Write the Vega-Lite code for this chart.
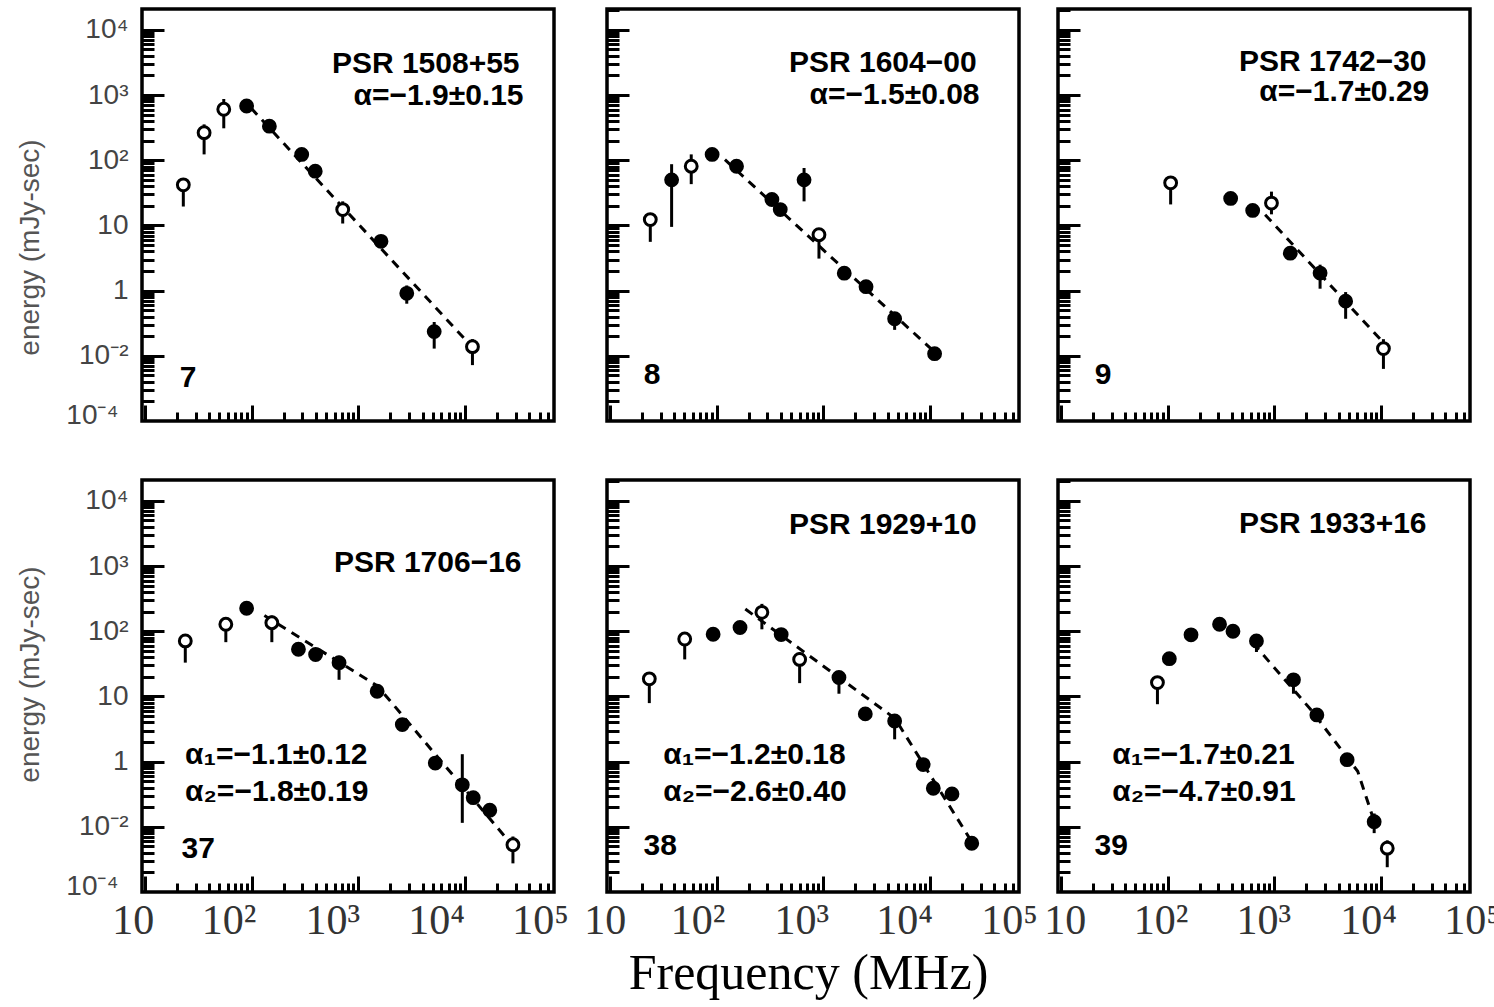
{
"$schema": "https://vega.github.io/schema/vega-lite/v6.json",
"background": "white",
"padding": {"left": 14, "top": 6, "right": 0, "bottom": 0},
"config": {
  "axis": {"grid": false, "domain": false, "tickColor": "black", "tickWidth": 3, "labelOverlap": false, "labelFlush": false, "labelBound": false},
  "view": {"stroke": "black", "strokeWidth": 3.5},
  "point": {"opacity": 1},
  "text": {"font": "Liberation Sans", "fontWeight": "bold", "fontSize": 30, "color": "black", "baseline": "middle"}
},
"data": {"values": [
{"p":7,"t":"pt","f":23,"E":42,"lo":19.5,"hi":52,"k":"open"},
{"p":7,"t":"pt","f":36,"E":265,"lo":123,"hi":355,"k":"open"},
{"p":7,"t":"pt","f":55,"E":605,"lo":309,"hi":870,"k":"open"},
{"p":7,"t":"pt","f":90,"E":680,"k":"filled"},
{"p":7,"t":"pt","f":147,"E":333,"k":"filled"},
{"p":7,"t":"pt","f":295,"E":123,"k":"filled"},
{"p":7,"t":"pt","f":395,"E":68,"k":"filled"},
{"p":7,"t":"pt","f":714,"E":17.5,"lo":10.7,"hi":23.4,"k":"open"},
{"p":7,"t":"pt","f":1630,"E":5.7,"k":"filled"},
{"p":7,"t":"pt","f":2840,"E":0.91,"lo":0.63,"hi":1.2,"k":"filled"},
{"p":7,"t":"pt","f":5130,"E":0.235,"lo":0.129,"hi":0.33,"k":"filled"},
{"p":7,"t":"pt","f":11700,"E":0.138,"lo":0.072,"hi":0.18,"k":"open"},
{"p":7,"t":"fit","f":99,"E":631},
{"p":7,"t":"fit","f":10470,"E":0.164},
{"p":7,"t":"name","f":32300,"E":2950,"s":"PSR 1508+55"},
{"p":7,"t":"ar","f":35200,"E":960,"s":"α=−1.9±0.15"},
{"p":7,"t":"num","f":25.5,"E":0.046,"s":"7"},

{"p":8,"t":"pt","f":24,"E":12.3,"lo":5.6,"hi":14.8,"k":"open"},
{"p":8,"t":"pt","f":38,"E":50,"lo":9.5,"hi":87,"k":"filled"},
{"p":8,"t":"pt","f":58,"E":81,"lo":43,"hi":123,"k":"open"},
{"p":8,"t":"pt","f":91,"E":123,"k":"filled"},
{"p":8,"t":"pt","f":154,"E":81,"k":"filled"},
{"p":8,"t":"pt","f":330,"E":25,"k":"filled"},
{"p":8,"t":"pt","f":395,"E":17.5,"k":"filled"},
{"p":8,"t":"pt","f":660,"E":50,"lo":23.4,"hi":76,"k":"filled"},
{"p":8,"t":"pt","f":910,"E":7.2,"lo":3.1,"hi":8.9,"k":"open"},
{"p":8,"t":"pt","f":1570,"E":1.85,"k":"filled"},
{"p":8,"t":"pt","f":2510,"E":1.15,"k":"filled"},
{"p":8,"t":"pt","f":4650,"E":0.37,"lo":0.25,"hi":0.42,"k":"filled"},
{"p":8,"t":"pt","f":11000,"E":0.108,"k":"filled"},
{"p":8,"t":"fit","f":120,"E":102},
{"p":8,"t":"fit","f":10960,"E":0.115},
{"p":8,"t":"name","f":27200,"E":3060,"s":"PSR 1604−00"},
{"p":8,"t":"ar","f":29000,"E":995,"s":"α=−1.5±0.08"},
{"p":8,"t":"num","f":25,"E":0.05,"s":"8"},

{"p":9,"t":"pt","f":107,"E":45,"lo":21,"hi":52,"k":"open"},
{"p":9,"t":"pt","f":390,"E":26,"k":"filled"},
{"p":9,"t":"pt","f":627,"E":17,"k":"filled"},
{"p":9,"t":"pt","f":940,"E":22,"lo":14.8,"hi":33,"k":"open"},
{"p":9,"t":"pt","f":1410,"E":3.75,"k":"filled"},
{"p":9,"t":"pt","f":2680,"E":1.86,"lo":1.07,"hi":2.5,"k":"filled"},
{"p":9,"t":"pt","f":4650,"E":0.69,"lo":0.37,"hi":0.95,"k":"filled"},
{"p":9,"t":"pt","f":10500,"E":0.129,"lo":0.063,"hi":0.18,"k":"open"},
{"p":9,"t":"fit","f":820,"E":14.6},
{"p":9,"t":"fit","f":10000,"E":0.174},
{"p":9,"t":"name","f":26600,"E":3200,"s":"PSR 1742−30"},
{"p":9,"t":"ar","f":28200,"E":1100,"s":"α=−1.7±0.29"},
{"p":9,"t":"num","f":25,"E":0.05,"s":"9"},

{"p":37,"t":"pt","f":24,"E":71,"lo":33,"hi":85,"k":"open"},
{"p":37,"t":"pt","f":57.5,"E":128,"lo":68,"hi":151,"k":"open"},
{"p":37,"t":"pt","f":90,"E":225,"k":"filled"},
{"p":37,"t":"pt","f":155,"E":135,"lo":68,"hi":174,"k":"open"},
{"p":37,"t":"pt","f":275,"E":53,"k":"filled"},
{"p":37,"t":"pt","f":398,"E":44,"k":"filled"},
{"p":37,"t":"pt","f":660,"E":33,"lo":18,"hi":42,"k":"filled"},
{"p":37,"t":"pt","f":1500,"E":12,"k":"filled"},
{"p":37,"t":"pt","f":2580,"E":3.7,"k":"filled"},
{"p":37,"t":"pt","f":5250,"E":0.95,"k":"filled"},
{"p":37,"t":"pt","f":9400,"E":0.44,"lo":0.115,"hi":1.3,"k":"filled"},
{"p":37,"t":"pt","f":11900,"E":0.28,"k":"filled"},
{"p":37,"t":"pt","f":17000,"E":0.18,"k":"filled"},
{"p":37,"t":"pt","f":28000,"E":0.053,"lo":0.0275,"hi":0.071,"k":"open"},
{"p":37,"t":"fit","f":132,"E":174},
{"p":37,"t":"fit","f":1510,"E":14.5},
{"p":37,"t":"fit","f":28200,"E":0.05},
{"p":37,"t":"name","f":33700,"E":1100,"s":"PSR 1706−16"},
{"p":37,"t":"al","f":23.9,"E":1.25,"s":"α₁=−1.1±0.12"},
{"p":37,"t":"al","f":23.9,"E":0.34,"s":"α₂=−1.8±0.19"},
{"p":37,"t":"num","f":31.7,"E":0.046,"s":"37"},

{"p":38,"t":"pt","f":23.5,"E":18.6,"lo":7.9,"hi":23,"k":"open"},
{"p":38,"t":"pt","f":50.4,"E":76,"lo":37,"hi":95,"k":"open"},
{"p":38,"t":"pt","f":93,"E":90,"k":"filled"},
{"p":38,"t":"pt","f":166,"E":114,"k":"filled"},
{"p":38,"t":"pt","f":266,"E":195,"lo":107,"hi":263,"k":"open"},
{"p":38,"t":"pt","f":403,"E":89,"k":"filled"},
{"p":38,"t":"pt","f":600,"E":37,"lo":16,"hi":47,"k":"open"},
{"p":38,"t":"pt","f":1400,"E":19.5,"lo":11,"hi":23,"k":"filled"},
{"p":38,"t":"pt","f":2470,"E":5.4,"k":"filled"},
{"p":38,"t":"pt","f":4650,"E":4.2,"lo":2.2,"hi":5.2,"k":"filled"},
{"p":38,"t":"pt","f":8600,"E":0.9,"k":"filled"},
{"p":38,"t":"pt","f":10700,"E":0.39,"k":"filled"},
{"p":38,"t":"pt","f":16000,"E":0.32,"k":"filled"},
{"p":38,"t":"pt","f":24500,"E":0.056,"k":"filled"},
{"p":38,"t":"fit","f":186,"E":219},
{"p":38,"t":"fit","f":4680,"E":4.6},
{"p":38,"t":"fit","f":24500,"E":0.059},
{"p":38,"t":"name","f":27200,"E":4250,"s":"PSR 1929+10"},
{"p":38,"t":"al","f":31.7,"E":1.25,"s":"α₁=−1.2±0.18"},
{"p":38,"t":"al","f":31.7,"E":0.34,"s":"α₂=−2.6±0.40"},
{"p":38,"t":"num","f":29.7,"E":0.051,"s":"38"},

{"p":39,"t":"pt","f":80.5,"E":16.3,"lo":7.6,"hi":20.4,"k":"open"},
{"p":39,"t":"pt","f":104,"E":38,"k":"filled"},
{"p":39,"t":"pt","f":166,"E":88,"k":"filled"},
{"p":39,"t":"pt","f":307,"E":128,"k":"filled"},
{"p":39,"t":"pt","f":410,"E":100,"k":"filled"},
{"p":39,"t":"pt","f":680,"E":71,"lo":48,"hi":80,"k":"filled"},
{"p":39,"t":"pt","f":1510,"E":18,"lo":11,"hi":21,"k":"filled"},
{"p":39,"t":"pt","f":2500,"E":5.2,"k":"filled"},
{"p":39,"t":"pt","f":4800,"E":1.07,"k":"filled"},
{"p":39,"t":"pt","f":8600,"E":0.12,"lo":0.08,"hi":0.16,"k":"filled"},
{"p":39,"t":"pt","f":11400,"E":0.047,"lo":0.024,"hi":0.062,"k":"open"},
{"p":39,"t":"fit","f":630,"E":66},
{"p":39,"t":"fit","f":2190,"E":6.3},
{"p":39,"t":"fit","f":6030,"E":0.71},
{"p":39,"t":"fit","f":8300,"E":0.145},
{"p":39,"t":"name","f":26600,"E":4400,"s":"PSR 1933+16"},
{"p":39,"t":"al","f":30.4,"E":1.25,"s":"α₁=−1.7±0.21"},
{"p":39,"t":"al","f":30.4,"E":0.34,"s":"α₂=−4.7±0.91"},
{"p":39,"t":"num","f":29.7,"E":0.051,"s":"39"}
]},
"spacing": 46,
"vconcat": [
 {"bounds": "flush", "spacing": 53, "hconcat": [
  {"width": 412, "height": 412, "transform": [{"filter": "datum.p == 7"}],
   "encoding": {
     "x": {"field": "f", "type": "quantitative", "scale": {"type": "log", "domain": [9.44, 100000], "range": [0, 430]},
       "axis": {"values": [10,20,30,40,50,60,70,80,90,100,200,300,400,500,600,700,800,900,1000,2000,3000,4000,5000,6000,7000,8000,9000,10000,20000,30000,40000,50000,60000], "labels": false, "title": null,
         "tickSize": {"condition": {"test": "abs(log(datum.value)/LN10 - round(log(datum.value)/LN10)) < 0.001", "value": -16}, "value": -9}}},
     "y": {"field": "E", "type": "quantitative", "scale": {"type": "log", "domain": [0.01, 20900]},
       "axis": {"values": [0.0123,0.02,0.03,0.04,0.05,0.06,0.07,0.08,0.09,0.1,0.2,0.3,0.4,0.5,0.6,0.7,0.8,0.9,1,2,3,4,5,6,7,8,9,10,20,30,40,50,60,70,80,90,100,200,300,400,500,600,700,800,900,1000,2000,3000,4000,5000,6000,7000,8000,9000,10000],
         "labelExpr": "datum.value == 10000 ? '10⁴' : datum.value == 1000 ? '10³' : datum.value == 100 ? '10²' : datum.value == 10 ? '10' : datum.value == 1 ? '1' : datum.value == 0.1 ? '10⁻²' : datum.value == 0.0123 ? '10⁻⁴' : ''",
         "labelFont": "Liberation Sans", "labelFontSize": 28, "labelColor": "#444", "labelPadding": 36,
         "tickSize": {"condition": {"test": "abs(log(datum.value)/LN10 - round(log(datum.value)/LN10)) < 0.001", "value": -22}, "value": -12},
         "tickOpacity": {"condition": {"test": "datum.value == 0.0123", "value": 0}, "value": 1},
         "title": "energy (mJy-sec)", "titleFont": "Liberation Sans", "titleFontSize": 28, "titleFontWeight": "normal", "titleColor": "#555", "titleX": -112, "titleY": 238, "titleAlign": "center", "titleBaseline": "middle", "titleAngle": -90}}
   },
   "layer": [
     {"transform": [{"filter": "isValid(datum.lo)"}], "mark": {"type": "rule", "color": "black", "strokeWidth": 3}, "encoding": {"y": {"field": "lo", "type": "quantitative"}, "y2": {"field": "hi"}}},
     {"transform": [{"filter": "datum.t == 'fit'"}], "mark": {"type": "line", "color": "black", "strokeWidth": 3, "strokeDash": [9, 7]}, "encoding": {}},
     {"transform": [{"filter": "datum.t == 'pt'"}], "mark": {"type": "point", "shape": "circle", "filled": true, "size": 140, "stroke": "black", "strokeWidth": 3}, "encoding": {"fill": {"field": "k", "type": "nominal", "scale": {"domain": ["open", "filled"], "range": ["white", "black"]}, "legend": null}}},
     {"transform": [{"filter": "datum.t == 'name'"}], "mark": {"type": "text", "align": "right"}, "encoding": {"text": {"field": "s"}}},
     {"transform": [{"filter": "datum.t == 'ar'"}], "mark": {"type": "text", "align": "right"}, "encoding": {"text": {"field": "s"}}},
     {"transform": [{"filter": "datum.t == 'num'"}], "mark": {"type": "text", "align": "center"}, "encoding": {"text": {"field": "s"}}}
   ]},
  {"bounds": "flush", "spacing": 39, "hconcat": [
   {"width": 412, "height": 412, "transform": [{"filter": "datum.p == 8"}],
    "encoding": {
     "x": {"field": "f", "type": "quantitative", "scale": {"type": "log", "domain": [9.44, 100000], "range": [0, 430]},
       "axis": {"values": [10,20,30,40,50,60,70,80,90,100,200,300,400,500,600,700,800,900,1000,2000,3000,4000,5000,6000,7000,8000,9000,10000,20000,30000,40000,50000,60000], "labels": false, "title": null,
         "tickSize": {"condition": {"test": "abs(log(datum.value)/LN10 - round(log(datum.value)/LN10)) < 0.001", "value": -16}, "value": -9}}},
     "y": {"field": "E", "type": "quantitative", "scale": {"type": "log", "domain": [0.01, 20900]},
       "axis": {"values": [0.02,0.03,0.04,0.05,0.06,0.07,0.08,0.09,0.1,0.2,0.3,0.4,0.5,0.6,0.7,0.8,0.9,1,2,3,4,5,6,7,8,9,10,20,30,40,50,60,70,80,90,100,200,300,400,500,600,700,800,900,1000,2000,3000,4000,5000,6000,7000,8000,9000,10000,20000], "labels": false, "title": null,
         "tickSize": {"condition": {"test": "abs(log(datum.value)/LN10 - round(log(datum.value)/LN10)) < 0.001", "value": -22}, "value": -12}}}
    },
    "layer": [
     {"transform": [{"filter": "isValid(datum.lo)"}], "mark": {"type": "rule", "color": "black", "strokeWidth": 3}, "encoding": {"y": {"field": "lo", "type": "quantitative"}, "y2": {"field": "hi"}}},
     {"transform": [{"filter": "datum.t == 'fit'"}], "mark": {"type": "line", "color": "black", "strokeWidth": 3, "strokeDash": [9, 7]}, "encoding": {}},
     {"transform": [{"filter": "datum.t == 'pt'"}], "mark": {"type": "point", "shape": "circle", "filled": true, "size": 140, "stroke": "black", "strokeWidth": 3}, "encoding": {"fill": {"field": "k", "type": "nominal", "scale": {"domain": ["open", "filled"], "range": ["white", "black"]}, "legend": null}}},
     {"transform": [{"filter": "datum.t == 'name'"}], "mark": {"type": "text", "align": "right"}, "encoding": {"text": {"field": "s"}}},
     {"transform": [{"filter": "datum.t == 'ar'"}], "mark": {"type": "text", "align": "right"}, "encoding": {"text": {"field": "s"}}},
     {"transform": [{"filter": "datum.t == 'num'"}], "mark": {"type": "text", "align": "center"}, "encoding": {"text": {"field": "s"}}}
    ]},
   {"width": 412, "height": 412, "transform": [{"filter": "datum.p == 9"}],
    "encoding": {
     "x": {"field": "f", "type": "quantitative", "scale": {"type": "log", "domain": [9.44, 100000], "range": [0, 430]},
       "axis": {"values": [10,20,30,40,50,60,70,80,90,100,200,300,400,500,600,700,800,900,1000,2000,3000,4000,5000,6000,7000,8000,9000,10000,20000,30000,40000,50000,60000], "labels": false, "title": null,
         "tickSize": {"condition": {"test": "abs(log(datum.value)/LN10 - round(log(datum.value)/LN10)) < 0.001", "value": -16}, "value": -9}}},
     "y": {"field": "E", "type": "quantitative", "scale": {"type": "log", "domain": [0.01, 20900]},
       "axis": {"values": [0.02,0.03,0.04,0.05,0.06,0.07,0.08,0.09,0.1,0.2,0.3,0.4,0.5,0.6,0.7,0.8,0.9,1,2,3,4,5,6,7,8,9,10,20,30,40,50,60,70,80,90,100,200,300,400,500,600,700,800,900,1000,2000,3000,4000,5000,6000,7000,8000,9000,10000,20000], "labels": false, "title": null,
         "tickSize": {"condition": {"test": "abs(log(datum.value)/LN10 - round(log(datum.value)/LN10)) < 0.001", "value": -22}, "value": -12}}}
    },
    "layer": [
     {"transform": [{"filter": "isValid(datum.lo)"}], "mark": {"type": "rule", "color": "black", "strokeWidth": 3}, "encoding": {"y": {"field": "lo", "type": "quantitative"}, "y2": {"field": "hi"}}},
     {"transform": [{"filter": "datum.t == 'fit'"}], "mark": {"type": "line", "color": "black", "strokeWidth": 3, "strokeDash": [9, 7]}, "encoding": {}},
     {"transform": [{"filter": "datum.t == 'pt'"}], "mark": {"type": "point", "shape": "circle", "filled": true, "size": 140, "stroke": "black", "strokeWidth": 3}, "encoding": {"fill": {"field": "k", "type": "nominal", "scale": {"domain": ["open", "filled"], "range": ["white", "black"]}, "legend": null}}},
     {"transform": [{"filter": "datum.t == 'name'"}], "mark": {"type": "text", "align": "right"}, "encoding": {"text": {"field": "s"}}},
     {"transform": [{"filter": "datum.t == 'ar'"}], "mark": {"type": "text", "align": "right"}, "encoding": {"text": {"field": "s"}}},
     {"transform": [{"filter": "datum.t == 'num'"}], "mark": {"type": "text", "align": "center"}, "encoding": {"text": {"field": "s"}}}
    ]}
  ]}
 ]},
 {"bounds": "flush", "spacing": 53, "hconcat": [
  {"width": 412, "height": 412, "transform": [{"filter": "datum.p == 37"}],
   "encoding": {
     "x": {"field": "f", "type": "quantitative", "scale": {"type": "log", "domain": [9.44, 100000], "range": [0, 430]},
       "axis": {"values": [10,20,30,40,50,60,70,80,90,100,200,300,400,500,600,700,800,900,1000,2000,3000,4000,5000,6000,7000,8000,9000,10000,20000,30000,40000,50000,60000,100000], "title": null,
         "labelExpr": "datum.value == 10 ? '10' : datum.value == 100 ? '10²' : datum.value == 1000 ? '10³' : datum.value == 10000 ? '10⁴' : datum.value == 100000 ? '10⁵' : ''",
         "labelFont": "Liberation Serif", "labelFontSize": 42, "labelColor": "#333", "labelPadding": 24,
         "labelOffset": {"condition": [{"test": "datum.value < 50", "value": -12}, {"test": "datum.value < 500", "value": -23}, {"test": "datum.value < 5000", "value": -26}, {"test": "datum.value < 50000", "value": -29}], "value": -32},
         "tickOpacity": {"condition": {"test": "datum.value > 65000", "value": 0}, "value": 1},
         "tickSize": {"condition": {"test": "abs(log(datum.value)/LN10 - round(log(datum.value)/LN10)) < 0.001", "value": -16}, "value": -9}}},
     "y": {"field": "E", "type": "quantitative", "scale": {"type": "log", "domain": [0.01, 20900]},
       "axis": {"values": [0.0123,0.02,0.03,0.04,0.05,0.06,0.07,0.08,0.09,0.1,0.2,0.3,0.4,0.5,0.6,0.7,0.8,0.9,1,2,3,4,5,6,7,8,9,10,20,30,40,50,60,70,80,90,100,200,300,400,500,600,700,800,900,1000,2000,3000,4000,5000,6000,7000,8000,9000,10000],
         "labelExpr": "datum.value == 10000 ? '10⁴' : datum.value == 1000 ? '10³' : datum.value == 100 ? '10²' : datum.value == 10 ? '10' : datum.value == 1 ? '1' : datum.value == 0.1 ? '10⁻²' : datum.value == 0.0123 ? '10⁻⁴' : ''",
         "labelFont": "Liberation Sans", "labelFontSize": 28, "labelColor": "#444", "labelPadding": 36,
         "tickSize": {"condition": {"test": "abs(log(datum.value)/LN10 - round(log(datum.value)/LN10)) < 0.001", "value": -22}, "value": -12},
         "tickOpacity": {"condition": {"test": "datum.value == 0.0123", "value": 0}, "value": 1},
         "title": "energy (mJy-sec)", "titleFont": "Liberation Sans", "titleFontSize": 28, "titleFontWeight": "normal", "titleColor": "#555", "titleX": -112, "titleY": 194, "titleAlign": "center", "titleBaseline": "middle", "titleAngle": -90}}
   },
   "layer": [
     {"transform": [{"filter": "isValid(datum.lo)"}], "mark": {"type": "rule", "color": "black", "strokeWidth": 3}, "encoding": {"y": {"field": "lo", "type": "quantitative"}, "y2": {"field": "hi"}}},
     {"transform": [{"filter": "datum.t == 'fit'"}], "mark": {"type": "line", "color": "black", "strokeWidth": 3, "strokeDash": [9, 7]}, "encoding": {}},
     {"transform": [{"filter": "datum.t == 'pt'"}], "mark": {"type": "point", "shape": "circle", "filled": true, "size": 140, "stroke": "black", "strokeWidth": 3}, "encoding": {"fill": {"field": "k", "type": "nominal", "scale": {"domain": ["open", "filled"], "range": ["white", "black"]}, "legend": null}}},
     {"transform": [{"filter": "datum.t == 'name'"}], "mark": {"type": "text", "align": "right"}, "encoding": {"text": {"field": "s"}}},
     {"transform": [{"filter": "datum.t == 'al'"}], "mark": {"type": "text", "align": "left"}, "encoding": {"text": {"field": "s"}}},
     {"transform": [{"filter": "datum.t == 'num'"}], "mark": {"type": "text", "align": "center"}, "encoding": {"text": {"field": "s"}}}
   ]},
  {"bounds": "flush", "spacing": 39, "hconcat": [
   {"width": 412, "height": 412, "transform": [{"filter": "datum.p == 38"}],
    "encoding": {
     "x": {"field": "f", "type": "quantitative", "scale": {"type": "log", "domain": [9.44, 100000], "range": [0, 430]},
       "axis": {"values": [10,20,30,40,50,60,70,80,90,100,200,300,400,500,600,700,800,900,1000,2000,3000,4000,5000,6000,7000,8000,9000,10000,20000,30000,40000,50000,60000,100000],
         "labelExpr": "datum.value == 10 ? '10' : datum.value == 100 ? '10²' : datum.value == 1000 ? '10³' : datum.value == 10000 ? '10⁴' : datum.value == 100000 ? '10⁵' : ''",
         "labelFont": "Liberation Serif", "labelFontSize": 42, "labelColor": "#333", "labelPadding": 24,
         "labelOffset": {"condition": [{"test": "datum.value < 50", "value": -5}, {"test": "datum.value < 500", "value": -19}, {"test": "datum.value < 5000", "value": -22}, {"test": "datum.value < 50000", "value": -26}], "value": -28},
         "tickOpacity": {"condition": {"test": "datum.value > 65000", "value": 0}, "value": 1},
         "tickSize": {"condition": {"test": "abs(log(datum.value)/LN10 - round(log(datum.value)/LN10)) < 0.001", "value": -16}, "value": -9},
         "title": "Frequency (MHz)", "titleFont": "Liberation Serif", "titleFontSize": 50, "titleFontWeight": "normal", "titleColor": "black", "titlePadding": 0, "titleX": 201, "titleAlign": "center"}},
     "y": {"field": "E", "type": "quantitative", "scale": {"type": "log", "domain": [0.01, 20900]},
       "axis": {"values": [0.02,0.03,0.04,0.05,0.06,0.07,0.08,0.09,0.1,0.2,0.3,0.4,0.5,0.6,0.7,0.8,0.9,1,2,3,4,5,6,7,8,9,10,20,30,40,50,60,70,80,90,100,200,300,400,500,600,700,800,900,1000,2000,3000,4000,5000,6000,7000,8000,9000,10000,20000], "labels": false, "title": null,
         "tickSize": {"condition": {"test": "abs(log(datum.value)/LN10 - round(log(datum.value)/LN10)) < 0.001", "value": -22}, "value": -12}}}
    },
    "layer": [
     {"transform": [{"filter": "isValid(datum.lo)"}], "mark": {"type": "rule", "color": "black", "strokeWidth": 3}, "encoding": {"y": {"field": "lo", "type": "quantitative"}, "y2": {"field": "hi"}}},
     {"transform": [{"filter": "datum.t == 'fit'"}], "mark": {"type": "line", "color": "black", "strokeWidth": 3, "strokeDash": [9, 7]}, "encoding": {}},
     {"transform": [{"filter": "datum.t == 'pt'"}], "mark": {"type": "point", "shape": "circle", "filled": true, "size": 140, "stroke": "black", "strokeWidth": 3}, "encoding": {"fill": {"field": "k", "type": "nominal", "scale": {"domain": ["open", "filled"], "range": ["white", "black"]}, "legend": null}}},
     {"transform": [{"filter": "datum.t == 'name'"}], "mark": {"type": "text", "align": "right"}, "encoding": {"text": {"field": "s"}}},
     {"transform": [{"filter": "datum.t == 'al'"}], "mark": {"type": "text", "align": "left"}, "encoding": {"text": {"field": "s"}}},
     {"transform": [{"filter": "datum.t == 'num'"}], "mark": {"type": "text", "align": "center"}, "encoding": {"text": {"field": "s"}}}
    ]},
   {"width": 412, "height": 412, "transform": [{"filter": "datum.p == 39"}],
    "encoding": {
     "x": {"field": "f", "type": "quantitative", "scale": {"type": "log", "domain": [9.44, 100000], "range": [0, 430]},
       "axis": {"values": [10,20,30,40,50,60,70,80,90,100,200,300,400,500,600,700,800,900,1000,2000,3000,4000,5000,6000,7000,8000,9000,10000,20000,30000,40000,50000,60000,100000], "title": null,
         "labelExpr": "datum.value == 10 ? '10' : datum.value == 100 ? '10²' : datum.value == 1000 ? '10³' : datum.value == 10000 ? '10⁴' : datum.value == 100000 ? '10⁵' : ''",
         "labelFont": "Liberation Serif", "labelFontSize": 42, "labelColor": "#333", "labelPadding": 24,
         "labelOffset": {"condition": [{"test": "datum.value < 50", "value": 4}, {"test": "datum.value < 500", "value": -7}, {"test": "datum.value < 5000", "value": -11}, {"test": "datum.value < 50000", "value": -13}], "value": -16},
         "tickOpacity": {"condition": {"test": "datum.value > 65000", "value": 0}, "value": 1},
         "tickSize": {"condition": {"test": "abs(log(datum.value)/LN10 - round(log(datum.value)/LN10)) < 0.001", "value": -16}, "value": -9}}},
     "y": {"field": "E", "type": "quantitative", "scale": {"type": "log", "domain": [0.01, 20900]},
       "axis": {"values": [0.02,0.03,0.04,0.05,0.06,0.07,0.08,0.09,0.1,0.2,0.3,0.4,0.5,0.6,0.7,0.8,0.9,1,2,3,4,5,6,7,8,9,10,20,30,40,50,60,70,80,90,100,200,300,400,500,600,700,800,900,1000,2000,3000,4000,5000,6000,7000,8000,9000,10000,20000], "labels": false, "title": null,
         "tickSize": {"condition": {"test": "abs(log(datum.value)/LN10 - round(log(datum.value)/LN10)) < 0.001", "value": -22}, "value": -12}}}
    },
    "layer": [
     {"transform": [{"filter": "isValid(datum.lo)"}], "mark": {"type": "rule", "color": "black", "strokeWidth": 3}, "encoding": {"y": {"field": "lo", "type": "quantitative"}, "y2": {"field": "hi"}}},
     {"transform": [{"filter": "datum.t == 'fit'"}], "mark": {"type": "line", "color": "black", "strokeWidth": 3, "strokeDash": [9, 7]}, "encoding": {}},
     {"transform": [{"filter": "datum.t == 'pt'"}], "mark": {"type": "point", "shape": "circle", "filled": true, "size": 140, "stroke": "black", "strokeWidth": 3}, "encoding": {"fill": {"field": "k", "type": "nominal", "scale": {"domain": ["open", "filled"], "range": ["white", "black"]}, "legend": null}}},
     {"transform": [{"filter": "datum.t == 'name'"}], "mark": {"type": "text", "align": "right"}, "encoding": {"text": {"field": "s"}}},
     {"transform": [{"filter": "datum.t == 'al'"}], "mark": {"type": "text", "align": "left"}, "encoding": {"text": {"field": "s"}}},
     {"transform": [{"filter": "datum.t == 'num'"}], "mark": {"type": "text", "align": "center"}, "encoding": {"text": {"field": "s"}}}
    ]}
  ]}
 ]}
]
}
